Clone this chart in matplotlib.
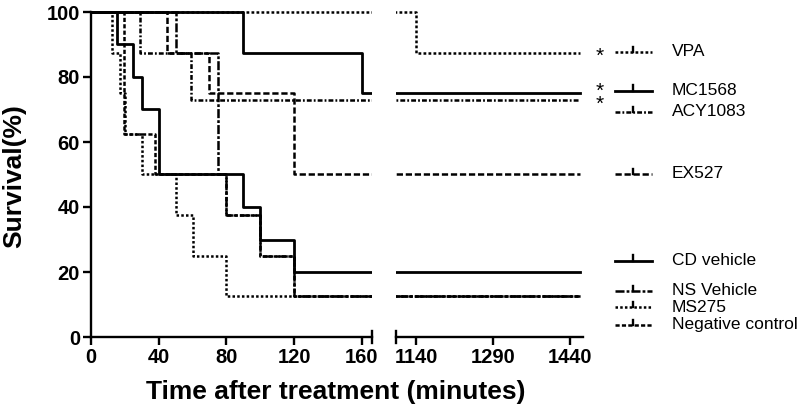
import matplotlib
matplotlib.use("Agg")
import matplotlib.pyplot as plt
from matplotlib.transforms import blended_transform_factory

# Kaplan-Meier step data (time in minutes, survival in %)
vpa_t = [0, 1140, 1460]
vpa_s = [100, 87.5, 87.5]
mc1568_t = [0, 90, 160, 1460]
mc1568_s = [100, 87.5, 75, 75]
acy1083_t = [0, 29, 59, 1460]
acy1083_s = [100, 87.5, 73, 73]
ex527_t = [0, 45, 70, 120, 1460]
ex527_s = [100, 87.5, 75, 50, 50]
cd_t = [0, 15.5, 25, 30, 40, 90, 100, 120, 1460]
cd_s = [100, 90, 80, 70, 50, 40, 30, 20, 20]
ns_t = [0, 50, 75, 80, 100, 120, 1460]
ns_s = [100, 87.5, 50, 37.5, 25, 12.5, 12.5]
ms275_t = [0, 12.5, 17, 20, 30, 50, 60, 80, 1460]
ms275_s = [100, 87.5, 75, 62.5, 50, 37.5, 25, 12.5, 12.5]
neg_t = [0, 19.5, 38, 80, 100, 120, 1460]
neg_s = [100, 62.5, 50, 37.5, 25, 12.5, 12.5]

labels = ["VPA", "MC1568", "ACY1083", "EX527",
          "CD vehicle", "NS Vehicle", "MS275", "Negative control"]

left_ticks = [0, 40, 80, 120, 160]
right_ticks = [1140, 1290, 1440]
y_ticks = [0, 20, 40, 60, 80, 100]

plt.rcParams["font.family"] = ["Liberation Sans", "DejaVu Sans"]
plt.rcParams["lines.scale_dashes"] = False

series = [
    (vpa_t, vpa_s, (0, (2.0, 1.6)), 1.8),
    (mc1568_t, mc1568_s, "-", 2.0),
    (acy1083_t, acy1083_s, (0, (3.5, 1.5, 1.3, 1.5)), 1.8),
    (ex527_t, ex527_s, (0, (4.5, 2.0)), 1.8),
    (cd_t, cd_s, "-", 2.0),
    (ns_t, ns_s, (0, (6.5, 1.5, 2.0, 1.5)), 1.8),
    (ms275_t, ms275_s, (0, (1.8, 1.6)), 1.8),
    (neg_t, neg_s, (0, (3.0, 1.6)), 1.8),
]

# vertical placement of legend rows, in survival units (layout only)
legend_rows = [87.7, 75.8, 69.3, 50.2, 23.5, 14.2, 9.1, 3.7]

fig = plt.figure(figsize=(8, 4.15), dpi=100)
bottom = 78 / 415
height = 325 * 1.01 / 415
ax1 = fig.add_axes([91 / 800, bottom, 281 / 800, height])
ax2 = fig.add_axes([396 / 800, bottom, 187 / 800, height])

for ax in (ax1, ax2):
    for t, s, ls, lw in series:
        ax.step(t, s, where="post", color="black", linestyle=ls, linewidth=lw)
    ax.set_ylim(0, 101)
    for side in ("top", "right"):
        ax.spines[side].set_visible(False)
    ax.spines["bottom"].set_linewidth(1.7)
    ax.spines["left"].set_linewidth(1.7)
    ax.tick_params(width=1.7, length=6, labelsize=14.5, pad=2, direction="out")
    ax.patch.set_alpha(0)

ax1.set_xlim(0, 166)
ax1.set_xticks(left_ticks)
ax1.set_yticks(y_ticks)
ax1.spines["left"].set_bounds(0, 100)
ax2.set_xlim(1101, 1465)
ax2.set_xticks(right_ticks)
ax2.spines["left"].set_visible(False)
ax2.tick_params(axis="y", left=False, labelleft=False)

for ax in (ax1, ax2):
    for lab in ax.get_xticklabels() + ax.get_yticklabels():
        lab.set_fontweight("bold")

# break caps on the x axis
ax1.plot([1, 1], [-0.017, 0.017], transform=ax1.transAxes, color="black",
         linewidth=1.7, clip_on=False)
ax2.plot([0, 0], [-0.017, 0.017], transform=ax2.transAxes, color="black",
         linewidth=1.7, clip_on=False)

fig.text(0.42, 0.055, "Time after treatment (minutes)", ha="center",
         va="center", fontsize=19, fontweight="bold")
fig.text(0.018, 0.576, "Survival(%)", ha="center", va="center",
         rotation=90, fontsize=19, fontweight="bold")

# legend beside the curves
tr = blended_transform_factory(fig.transFigure, ax2.transData)
x0, x1, xm, xt = 615 / 800, 652 / 800, 633 / 800, 672 / 800
for (t, s, ls, lw), lab, yy in zip(series, labels, legend_rows):
    ax2.plot([x0, x1], [yy, yy], transform=tr, color="black",
             linestyle=ls, linewidth=lw, clip_on=False)
    ax2.plot([xm, xm], [yy, yy + 1.6], transform=tr, color="black",
             linewidth=1.7, clip_on=False)
    ax2.text(xt, yy, lab, transform=tr, ha="left", va="center", fontsize=12.5)

# significance marks
ax2.text(600 / 800, 86.5, "*", transform=tr, ha="center", va="center",
         fontsize=15)
ax2.text(600 / 800, 73.5, "*\n*", transform=tr, ha="center", va="center",
         fontsize=15, linespacing=0.62)

fig.savefig("out.png", dpi=100)
